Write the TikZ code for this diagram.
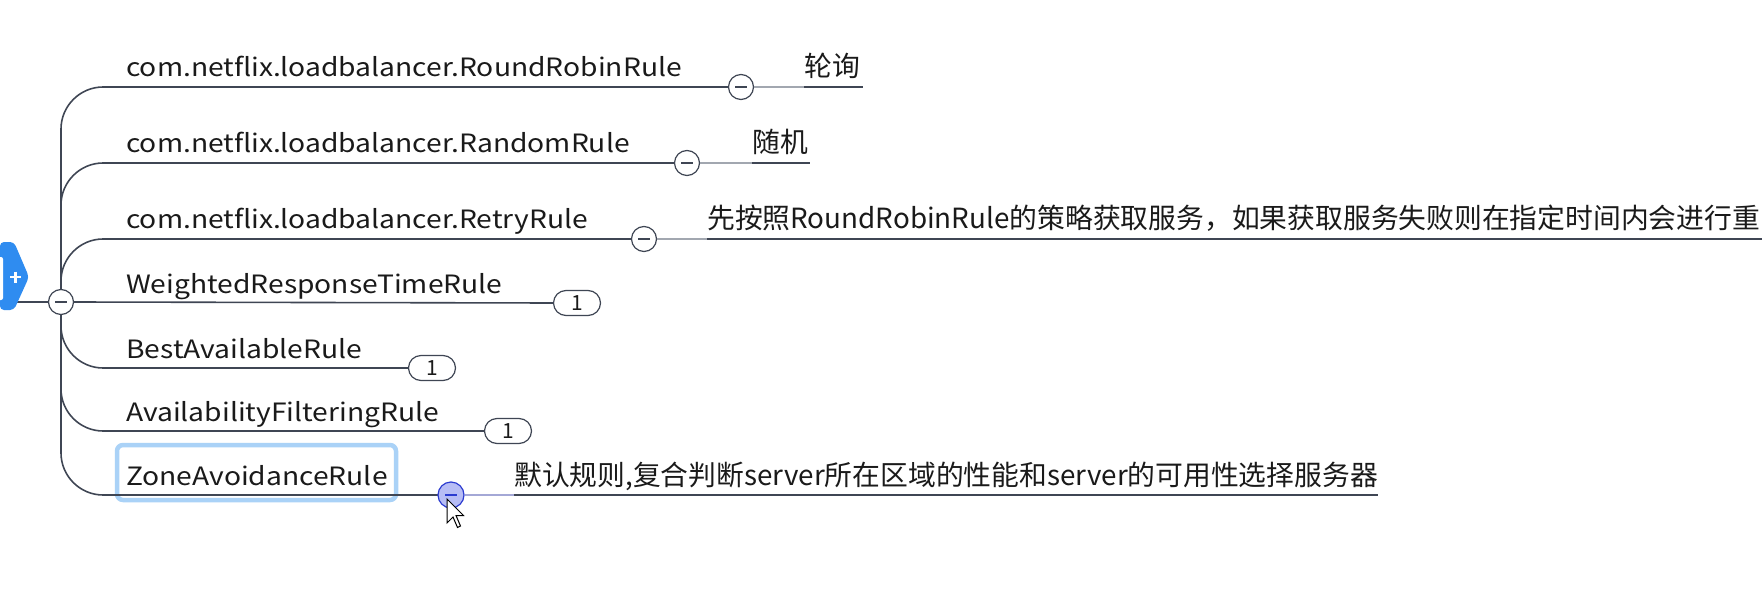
\documentclass[tikz,border=0pt]{standalone}
\usepackage{fontspec}
\setmainfont{Noto Sans CJK SC}
\newfontfamily\topicfont[FakeStretch=1.12]{Noto Sans CJK SC}
\newfontfamily\notefont{Noto Sans CJK SC}
\usetikzlibrary{shapes.misc}
\definecolor{linec}{HTML}{3F4654}
\definecolor{lightc}{HTML}{A2A7B0}
\definecolor{textc}{HTML}{1A1A1A}
\definecolor{rootblue}{HTML}{2F8CF0}
\definecolor{hlblue}{HTML}{AAD2F7}
\definecolor{selfill}{HTML}{B7BDF5}
\definecolor{seldraw}{HTML}{2B3BD0}
\definecolor{sellight}{HTML}{A4A8D6}
\tikzset{
  topic/.style={anchor=base west, inner sep=0pt, text=textc, font=\topicfont\fontsize{25.3}{30}\selectfont},
  note/.style={anchor=base west, inner sep=0pt, text=textc, font=\notefont\fontsize{27.9}{32}\selectfont},
  fold/.style={circle, draw=linec, fill=white, line width=1.2pt, minimum size=25bp, inner sep=0pt,
    path picture={\draw[line width=1.4pt, draw=linec] ([xshift=-6bp]path picture bounding box.center) -- ([xshift=6bp]path picture bounding box.center);}},
  selfold/.style={circle, draw=seldraw, fill=selfill, line width=1.2pt, minimum size=26bp, inner sep=0pt,
    path picture={\draw[line width=1.4pt, draw=seldraw] ([xshift=-6bp]path picture bounding box.center) -- ([xshift=6bp]path picture bounding box.center);}},
  badge/.style={rounded rectangle, draw=linec, fill=white, line width=1.2pt, minimum width=47bp, minimum height=25bp,
    inner sep=0pt, text=textc, font=\notefont\fontsize{21}{24}\selectfont},
  branch/.style={draw=linec, line width=1.6pt},
  faint/.style={draw=lightc, line width=1.4pt},
}
\begin{document}
\begin{tikzpicture}[x=1bp, y=-1bp]
\useasboundingbox[fill=white] (0,0) rectangle (1762,613);

% root tab (cut off at the left edge)
\draw[branch] (0,302) -- (49,302);
\fill[rootblue, rounded corners=4bp] (0,242) -- (14,242) -- (29,277) -- (14,310) -- (0,310) -- cycle;
\fill[white, rounded corners=2bp] (-4,257) rectangle (3,300);
\draw[white, line width=2.6pt] (10,277) -- (21,277) (15.5,271.5) -- (15.5,282.5);

% collapse circle of the root
\node[fold] (r) at (61,302) {};

% topic texts
\node[topic] (t1) at (126,77) {com.netflix.loadbalancer.RoundRobinRule};
\node[topic] (t2) at (126,153) {com.netflix.loadbalancer.RandomRule};
\node[topic] (t3) at (126,229) {com.netflix.loadbalancer.RetryRule};
\node[topic] (t4) at (126,293) {WeightedResponseTimeRule};
\node[topic] (t5) at (126,358) {BestAvailableRule};
\node[topic] (t6) at (126,421) {AvailabilityFilteringRule};

% highlighted topic
\draw[hlblue, line width=4.5bp, rounded corners=6bp] (117,445) rectangle (396,500);
\node[topic] (t7) at (126,485) {ZoneAvoidanceRule};

% fold circles and badges
\node[fold] (f1) at (741,87) {};
\node[fold] (f2) at (687,163) {};
\node[fold] (f3) at (644,239) {};
\node[badge] (b4) at (577,303) {1};
\node[badge] (b5) at (432,368) {1};
\node[badge] (b6) at (508,431) {1};

% branches
\draw[branch] (r.north) -- (61,129) .. controls (61,106) and (80,87) .. (103,87) -- (f1.west);
\draw[branch] (r.north) -- (61,205) .. controls (61,182) and (80,163) .. (103,163) -- (f2.west);
\draw[branch] (r.north) -- (61,281) .. controls (61,258) and (80,239) .. (103,239) -- (f3.west);
\draw[branch] (r.east) -- (b4.west);
\draw[branch] (r.south) -- (61,326) .. controls (61,349) and (80,368) .. (103,368) -- (b5.west);
\draw[branch] (r.south) -- (61,389) .. controls (61,412) and (80,431) .. (103,431) -- (b6.west);
\draw[branch] (r.south) -- (61,453) .. controls (61,476) and (80,495) .. (103,495) -- (438,495);

\node[selfold] (f7) at (451,495) {};

% notes
\node[note] (n1) at (804,77) {轮询};
\node[note] (n2) at (752,153) {随机};
\node[note] (n3) at (707,229) {先按照RoundRobinRule的策略获取服务，如果获取服务失败则在指定时间内会进行重};
\node[note] (n7) at (514,485) {默认规则,复合判断server所在区域的性能和server的可用性选择服务器};

\coordinate (e1) at (863,87);
\coordinate (e2) at (810,163);
\coordinate (e3) at (1762,239);
\coordinate (e7) at (1378,495);

\draw[faint] (f1.east) -- (f1 -| n1.west);
\draw[branch] (f1 -| n1.west) -- (e1);
\draw[faint] (f2.east) -- (f2 -| n2.west);
\draw[branch] (f2 -| n2.west) -- (e2);
\draw[faint] (f3.east) -- (f3 -| n3.west);
\draw[branch] (f3 -| n3.west) -- (e3);
\draw[draw=sellight, line width=1.4pt] (f7.east) -- (f7 -| n7.west);
\draw[branch] (f7 -| n7.west) -- (e7);

% mouse pointer
\coordinate (cur) at (447,499);
\draw[black, fill=white, line width=1pt, line join=miter] (cur) -- ++(0,24) -- ++(6,-6) -- ++(4.5,10.5) -- ++(3,-1.5) -- ++(-4.5,-10.5) -- ++(7.5,0) -- cycle;
\end{tikzpicture}
\end{document}
